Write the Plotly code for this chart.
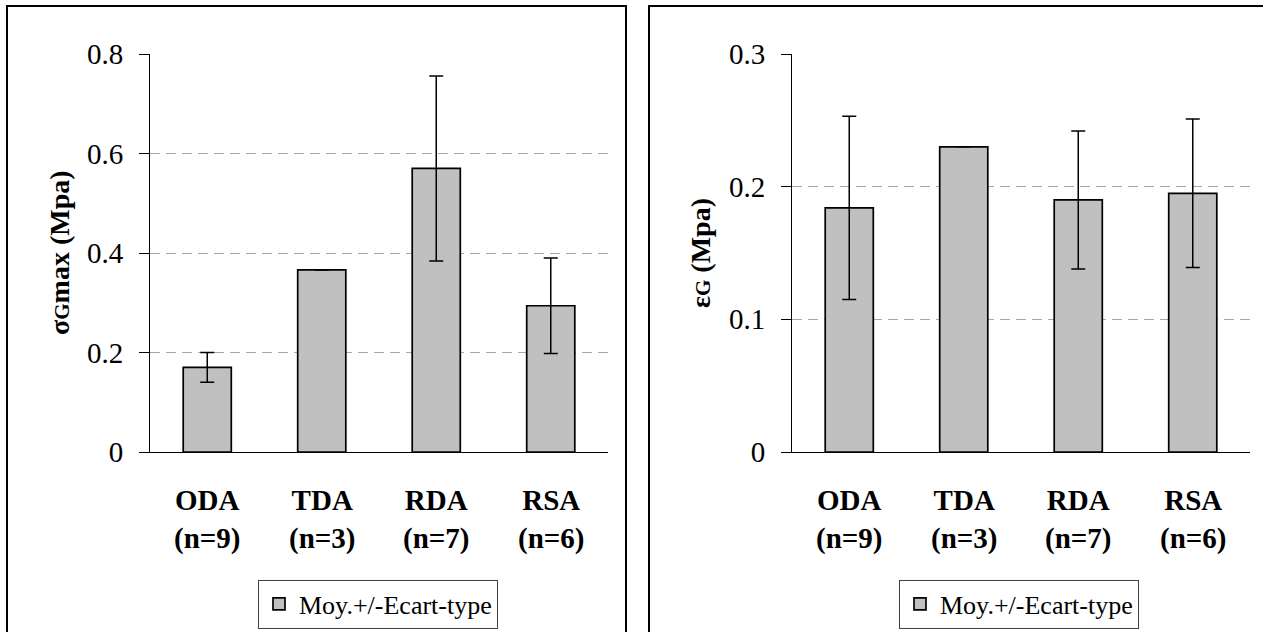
import plotly.graph_objects as go

W, H = 1263, 632


def fx(p):
    return p / W


def fy(p):
    return (H - p) / H


# ---------------- data ----------------
categories = ["ODA", "TDA", "RDA", "RSA"]
n_counts = [9, 3, 7, 6]
sigma_mean = [0.170, 0.366, 0.570, 0.294]
sigma_sd = [0.030, 0.0, 0.186, 0.096]
eps_mean = [0.184, 0.230, 0.190, 0.195]
eps_sd = [0.069, 0.0, 0.052, 0.056]
left_ticks = [0, 0.2, 0.4, 0.6, 0.8]
left_ticktext = ["0", "0.2", "0.4", "0.6", "0.8"]
right_ticks = [0, 0.1, 0.2, 0.3]
right_ticktext = ["0", "0.1", "0.2", "0.3"]
series_name = "Moy.+/-Ecart-type"
left_title = "<b>σ<span style='font-size:21px'>G</span>max (Mpa)</b>"
right_title = "<b>ε<span style='font-size:21px'>G</span> (Mpa)</b>"

FONT = "Liberation Serif"
BAR_FILL = "#c0c0c0"

fig = go.Figure()

err_style = dict(type="data", color="black", thickness=1.5, width=7, visible=True)
bar_marker = dict(color=BAR_FILL, line=dict(color="black", width=1.7))

fig.add_trace(go.Bar(
    x=categories, y=sigma_mean,
    error_y=dict(array=sigma_sd, **err_style),
    marker=bar_marker, name=series_name,
    xaxis="x", yaxis="y", legend="legend", showlegend=True,
))
fig.add_trace(go.Bar(
    x=categories, y=eps_mean,
    error_y=dict(array=eps_sd, **err_style),
    marker=bar_marker, name=series_name,
    xaxis="x2", yaxis="y2", legend="legend2", showlegend=True,
))

xaxis_common = dict(
    showline=True, linecolor="black", linewidth=1,
    showticklabels=False, ticks="", showgrid=False, zeroline=False,
    range=[-0.5, 3.5], type="category", automargin=False,
)
yaxis_common = dict(
    showline=True, linecolor="black", linewidth=1,
    ticks="outside", ticklen=10, tickcolor="black", tickwidth=1,
    showgrid=True, gridcolor="#a6a6a6", gridwidth=1, griddash="10px,6px",
    zeroline=False, tickfont=dict(family=FONT, size=29, color="black"),
    ticklabelstandoff=10, automargin=False,
)

legend_common = dict(
    xanchor="center", y=fy(604), yanchor="middle",
    bordercolor="#404040", borderwidth=1, bgcolor="white",
    font=dict(family=FONT, size=26, color="black"),
)

fig.update_layout(
    width=W, height=H, autosize=False,
    margin=dict(l=0, r=0, t=0, b=0, autoexpand=False),
    paper_bgcolor="white", plot_bgcolor="white",
    font=dict(family=FONT, color="black"),
    bargap=0.58,
    xaxis=dict(domain=[fx(150), fx(608)], anchor="y", **xaxis_common),
    yaxis=dict(domain=[fy(452), fy(54)], anchor="x", range=[0, 0.8],
               tickvals=left_ticks, ticktext=left_ticktext, **yaxis_common),
    xaxis2=dict(domain=[fx(792), fx(1250)], anchor="y2", **xaxis_common),
    yaxis2=dict(domain=[fy(452), fy(54)], anchor="x2", range=[0, 0.3],
                tickvals=right_ticks, ticktext=right_ticktext, **yaxis_common),
    legend=dict(x=fx(378), **legend_common),
    legend2=dict(x=fx(1019), **legend_common),
)

annotations = []
for xa in ["x", "x2"]:
    for cat, n in zip(categories, n_counts):
        annotations.append(dict(
            x=cat, xref=xa, y=fy(519), yref="paper", yanchor="middle",
            text=f"<b>{cat}<br>(n={n})</b>", showarrow=False,
            font=dict(family=FONT, size=29, color="black"), align="center",
        ))
annotations.append(dict(
    x=fx(59), xref="paper", y=fy(253), yref="paper", textangle=-90,
    text=left_title, showarrow=False, xanchor="center", yanchor="middle",
    font=dict(family=FONT, size=28, color="black"),
))
annotations.append(dict(
    x=fx(700), xref="paper", y=fy(253), yref="paper", textangle=-90,
    text=right_title, showarrow=False, xanchor="center", yanchor="middle",
    font=dict(family=FONT, size=28, color="black"),
))
fig.update_layout(annotations=annotations)

# panel borders
fig.update_layout(shapes=[
    dict(type="rect", xref="paper", yref="paper",
         x0=fx(7), x1=fx(626), y0=-0.1, y1=fy(6),
         line=dict(color="black", width=2), fillcolor="rgba(0,0,0,0)", layer="below"),
    dict(type="rect", xref="paper", yref="paper",
         x0=fx(649), x1=1.05, y0=-0.1, y1=fy(6),
         line=dict(color="black", width=2), fillcolor="rgba(0,0,0,0)", layer="below"),
])

fig.write_html(
    "out.html",
    config={"displayModeBar": False},
    post_script="document.body.style.margin='0';document.body.style.overflow='hidden';",
)
